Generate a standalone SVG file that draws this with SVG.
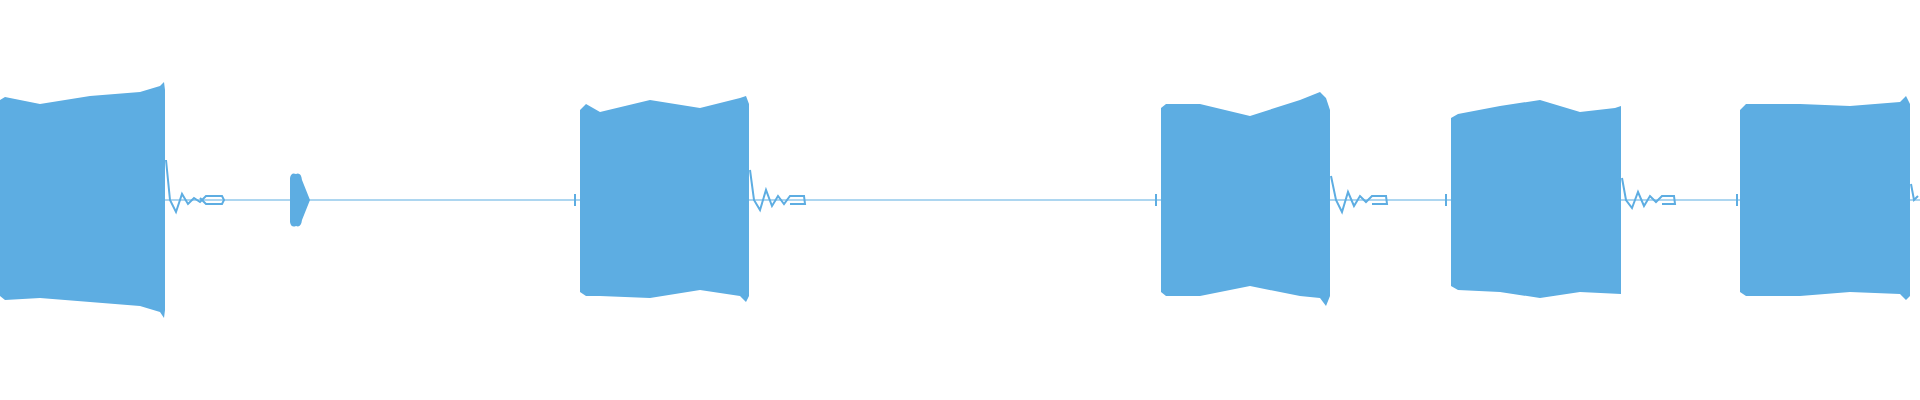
<svg xmlns="http://www.w3.org/2000/svg" width="1920" height="400" viewBox="0 0 1920 400">
<style>.w{fill:#5dade2}.l{stroke:#5dade2;stroke-width:1.2;fill:none}.s{stroke:#5dade2;stroke-width:2;fill:none}</style>
<rect width="1920" height="400" fill="#fff"/>
<line class="l" x1="0" y1="200" x2="1920" y2="200"/>
<path class="w" d="M0,100 L5,97 L40,104 L90,96 L140,92 L160,86 L164,82 L165,90 L165,310 L164,318 L160,312 L140,306 L90,302 L40,298 L5,300 L0,296 Z"/>
<path class="s" d="M166,160 L170,200 L176,212 L182,194 L188,204 L194,198 L200,202 L206,196 L222,196 L224,200 L222,204 L206,204 L200,198"/>
<path class="w" d="M290,178 Q291,172 296,174 Q301,172 302,180 L306,190 L310,200 L306,210 L302,220 Q301,228 296,226 Q291,228 290,222 Z"/>
<path class="w" d="M580,110 L586,104 L600,112 L650,100 L700,108 L740,98 L746,96 L749,104 L749,296 L746,302 L740,296 L700,290 L650,298 L600,296 L586,296 L580,292 Z"/>
<path class="s" d="M750,170 L754,200 L760,210 L766,190 L772,206 L778,196 L784,204 L790,196 L804,196 L805,204 L790,204"/>
<path class="w" d="M1161,108 L1166,104 L1200,104 L1250,116 L1300,100 L1320,92 L1326,98 L1330,110 L1330,296 L1326,306 L1320,298 L1300,296 L1250,286 L1200,296 L1166,296 L1161,292 Z"/>
<path class="s" d="M1331,176 L1336,200 L1342,212 L1348,192 L1354,206 L1360,196 L1366,202 L1372,196 L1386,196 L1387,204 L1372,204"/>
<path class="w" d="M1451,118 L1458,114 L1500,106 L1540,100 L1580,112 L1615,108 L1621,106 L1621,294 L1580,292 L1540,298 L1500,292 L1458,290 L1451,286 Z"/>
<path class="s" d="M1622,178 L1626,200 L1632,208 L1638,192 L1644,206 L1650,196 L1656,202 L1662,196 L1674,196 L1675,204 L1662,204"/>
<path class="w" d="M1740,110 L1746,104 L1800,104 L1850,106 L1900,102 L1906,96 L1910,104 L1910,296 L1906,300 L1900,294 L1850,292 L1800,296 L1746,296 L1740,292 Z"/>
<path class="s" d="M1911,184 L1914,200 L1918,196"/>
<line class="s" x1="575" y1="194" x2="575" y2="206"/><line class="s" x1="1156" y1="194" x2="1156" y2="206"/><line class="s" x1="1446" y1="194" x2="1446" y2="206"/><line class="s" x1="1737" y1="194" x2="1737" y2="206"/>
</svg>
